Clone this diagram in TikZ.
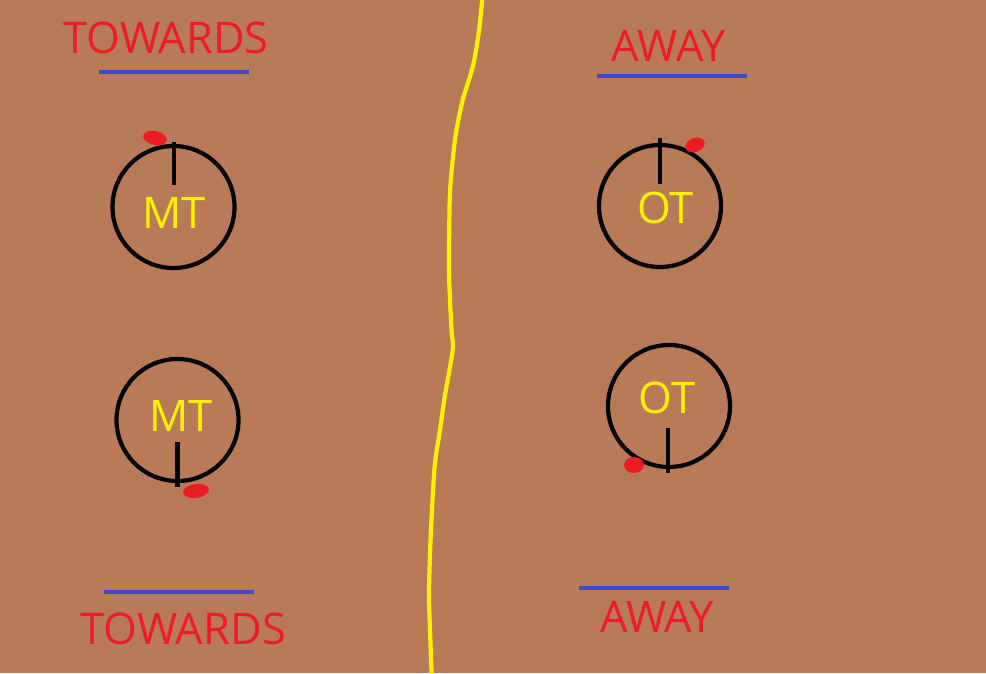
\documentclass[tikz,border=0pt]{standalone}
\usepackage{fontspec}
\setmainfont{Open Sans}
\usepackage{tikz}
\usetikzlibrary{calc}
\definecolor{paintbrown}{RGB}{185,122,87}
\definecolor{paintred}{RGB}{237,28,36}
\definecolor{paintyellow}{RGB}{255,242,0}
\definecolor{paintblue}{RGB}{63,72,204}

\begin{document}
\begin{tikzpicture}[
  x=1pt, y=-1pt,
  dial/.style={draw=black, line width=4.2pt, circle, minimum size=122pt, inner sep=0pt},
  hand/.style={draw=black, line width=4.2pt},
  tag/.style={text=paintyellow, font=\fontsize{43.5}{50}\selectfont, inner sep=0pt},
  head/.style={text=paintred, font=\fontsize{43.5}{50}\selectfont, inner sep=0pt},
  bar/.style={draw=paintblue, line width=3.8pt},
  dot/.style={fill=paintred},
  divider/.style={draw=paintyellow, line width=4.2pt}
]
  \fill[paintbrown] (0,0) rectangle (986,673);
  \useasboundingbox (0,0) rectangle (986,673);

  \draw[divider] plot[smooth] coordinates {(482.5,-3) (478.7,33) (472.7,67) (462.7,100)
    (456,133) (452,167) (449.7,200) (449,267) (450,300) (451.7,333) (452.7,350)
    (444.7,397) (440,430) (435,463) (432.7,497) (431,530) (429.7,563) (429,597)
    (430,630) (431.7,676)};

  \node[head] (towardsTop) at (166.2,38.3)  {TOWARDS};
  \node[head] (awayTop)    at (668.7,46.3)  {AWAY};
  \node[head] (towardsBot) at (183.3,628.8) {TOWARDS};
  \node[head] (awayBot)    at (657,616.7)   {AWAY};

  \draw[bar] (99.3,72.3)  -- (249.3,72.3);
  \draw[bar] (597,76.3)   -- (746.7,76.3);
  \draw[bar] (104.3,591.7) -- (254.3,591.7);
  \draw[bar] (579.3,587.7) -- (729.3,587.7);

  \node[dial] (mtTop) at (173.5,207) {};
  \node[dial] (otTop) at (660,206)   {};
  \node[dial] (mtBot) at (177.5,420) {};
  \node[dial] (otBot) at (669,406)   {};

  \node[tag] (mtTopText) at (173.7,213.3) {MT};
  \node[tag] (otTopText) at (665.5,208.3) {OT};
  \node[tag] (mtBotText) at (181.2,416.2) {MT};
  \node[tag] (otBotText) at (666.7,398.3) {OT};

  \draw[hand] ($(mtTop.center)+(0.5,-65)$) -- ($(mtTop.center)+(0.5,-22)$);
  \draw[hand] ($(otTop.center)+(0,-68)$)   -- ($(otTop.center)+(0,-22)$);
  \draw[hand] ($(mtBot.center)+(0,22)$)    -- ($(mtBot.center)+(0,67)$);
  \draw[hand] ($(otBot.center)+(-1,22)$)   -- ($(otBot.center)+(-1,67)$);

  \fill[dot, rotate around={-12:(155,138)}] (155,138) ellipse (12 and 7);
  \fill[dot, rotate around={20:(695,145)}]  (695,145) ellipse (10 and 7);
  \fill[dot, rotate around={8:(196,491)}]   (196,491) ellipse (13 and 7);
  \fill[dot] (634,465) ellipse (10 and 8);
\end{tikzpicture}
\end{document}
